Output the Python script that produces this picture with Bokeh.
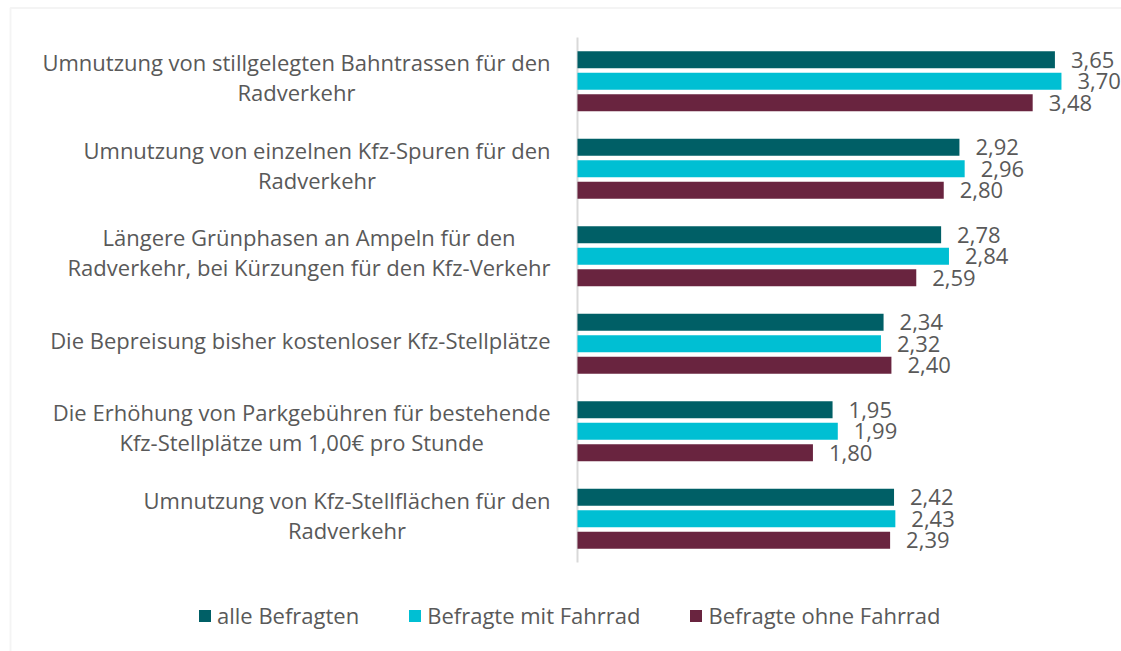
from bokeh.plotting import figure
from bokeh.models import ColumnDataSource, Range1d, Legend, LegendItem, BoxAnnotation
from bokeh.transform import dodge
from bokeh.core.properties import value
from bokeh.embed import file_html
from bokeh.resources import INLINE

categories = [
    "Umnutzung von stillgelegten Bahntrassen für den\nRadverkehr",
    "Umnutzung von einzelnen Kfz-Spuren für den\nRadverkehr",
    "Längere Grünphasen an Ampeln für den\nRadverkehr, bei Kürzungen für den Kfz-Verkehr",
    "Die Bepreisung bisher kostenloser Kfz-Stellplätze",
    "Die Erhöhung von Parkgebühren für bestehende\nKfz-Stellplätze um 1,00€ pro Stunde",
    "Umnutzung von Kfz-Stellflächen für den\nRadverkehr",
]
series_names = ["alle Befragten", "Befragte mit Fahrrad", "Befragte ohne Fahrrad"]
alle = [3.65, 2.92, 2.78, 2.34, 1.95, 2.42]
mit = [3.70, 2.96, 2.84, 2.32, 1.99, 2.43]
ohne = [3.48, 2.80, 2.59, 2.40, 1.80, 2.39]

colors = ["#005F66", "#00BFD3", "#69243F"]
FONT = "Open Sans"
TXT = "#595959"
FS = "22px"

def fmt(v):
    return f"{v:.2f}".replace(".", ",")

W, H = 1121, 651
X0 = 577.0          # screen x of value 0
PXU = 130.8         # px per value unit
CAT0 = 80.75        # screen y of first category centre
CATH = 87.5         # px per category

p = figure(
    width=W, height=H,
    x_range=Range1d(-X0 / PXU, (W - X0) / PXU),
    y_range=Range1d(-(H - CAT0) / CATH, CAT0 / CATH),
    output_backend="svg", toolbar_location=None,
    min_border=0,
)
p.outline_line_color = None
p.grid.visible = False
p.axis.visible = False

pos = [-i for i in range(len(categories))]

src = ColumnDataSource(dict(cat=categories, pos=pos, alle=alle, mit=mit, ohne=ohne,
                            alle_l=[fmt(v) for v in alle],
                            mit_l=[fmt(v) for v in mit],
                            ohne_l=[fmt(v) for v in ohne]))

# axis line at value 0 spanning the category band
p.segment(x0=0, y0=0.5, x1=0, y1=-len(categories) + 0.5, line_color="#D9D9D9", line_width=2)

offsets = [0.246, 0.0, -0.246]
keys = ["alle", "mit", "ohne"]
renderers = []
for key, off, col in zip(keys, offsets, colors):
    r = p.hbar(y=dodge("pos", off), left=0, right=key, height=0.194,
               source=src, fill_color=col, line_color=None)
    renderers.append(r)
    p.text(x=key, y=dodge("pos", off), text=key + "_l", source=src,
           x_offset=16, text_align="left", text_baseline="middle",
           text_font=value(FONT), text_font_size=FS, text_color=TXT)

# category labels: block right-anchored, lines centred
p.text(x=0, y="pos", text="cat", source=src, x_offset=-27, y_offset=-4,
       anchor="center_right", text_align="center", text_baseline="middle",
       text_line_height=1.0,
       text_font=value(FONT), text_font_size=FS, text_color=TXT)

legend = Legend(items=[LegendItem(label=n, renderers=[r]) for n, r in zip(series_names, renderers)],
                orientation="horizontal", location=(197, 21))
legend.glyph_width = 15
legend.glyph_height = 15
legend.label_standoff = 5
legend.spacing = 48
legend.padding = 0
legend.margin = 0
legend.border_line_color = None
legend.background_fill_alpha = 0
legend.label_text_font = FONT
legend.label_text_font_size = FS
legend.label_text_color = TXT
p.add_layout(legend, "center")

p.add_layout(BoxAnnotation(left=10, right=3000, top=7.5, bottom=3000,
                           left_units="canvas", right_units="canvas",
                           top_units="canvas", bottom_units="canvas",
                           fill_alpha=0, line_color="#D9D9D9", line_width=2))

open("out.html", "w").write(file_html(p, INLINE))
